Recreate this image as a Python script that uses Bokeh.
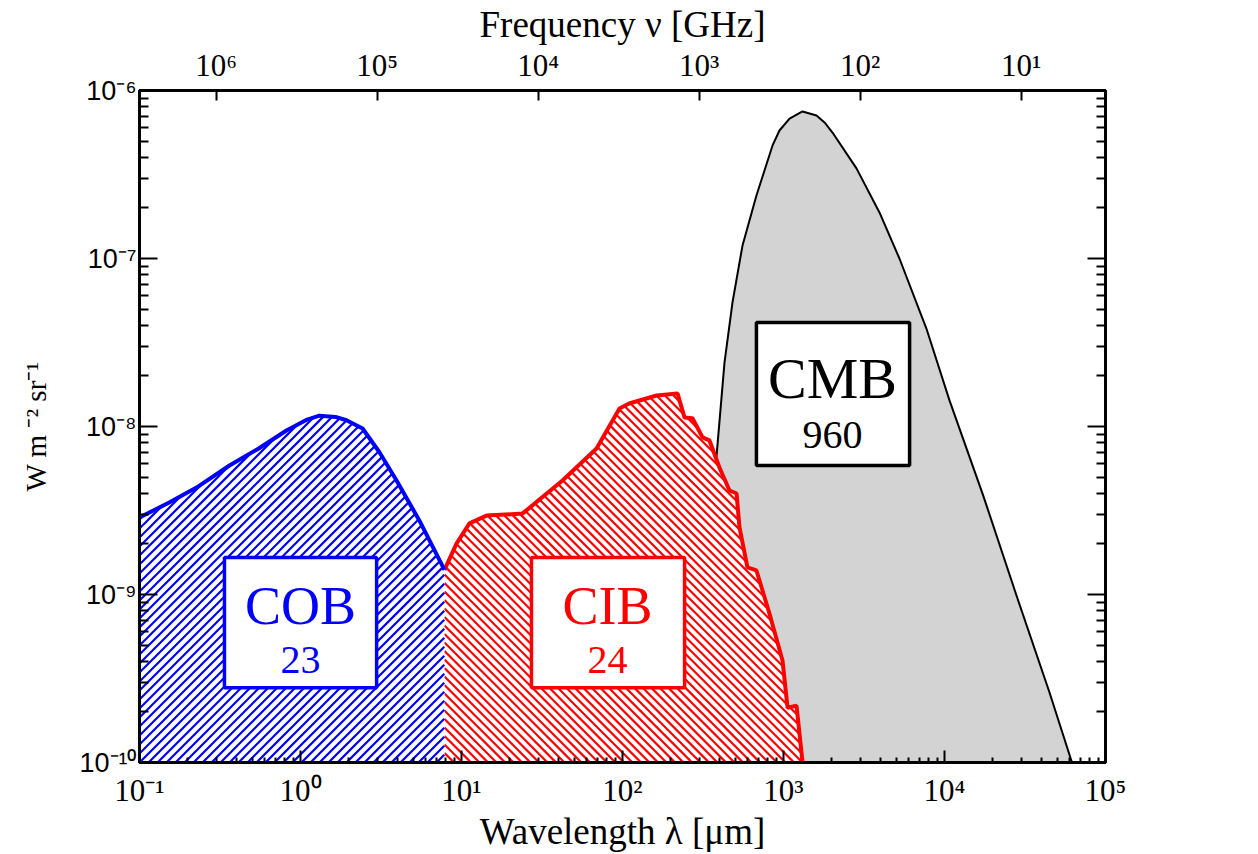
import numpy as np
from bokeh.plotting import figure
from bokeh.models import Range1d, LogAxis, FixedTicker, LogScale, BoxAnnotation, Label
from bokeh.embed import file_html
from bokeh.resources import INLINE

# ---- data ----
cob_wavelength = [0.1, 0.153, 0.226, 0.362, 0.55, 0.818, 1.10, 1.31, 1.65, 1.93, 2.43, 3.10, 3.95, 5.48, 7.84]
cob_intensity = [2.87e-9, 3.53e-9, 4.33e-9, 5.86e-9, 7.40e-9, 9.47e-9, 1.10e-8, 1.16e-8, 1.14e-8,
                 1.09e-8, 9.73e-9, 7.0e-9, 4.77e-9, 2.75e-9, 1.40e-9]

cib_wavelength = [7.84, 9.31, 11.2, 14.3, 23.9, 42.4, 69.0, 95.8, 110, 163, 220, 226, 243, 272, 288,
                  314, 347, 362, 400, 462, 511, 533, 597, 679, 818, 986, 1060, 1205, 1313]
cib_intensity = [1.40e-9, 2.01e-9, 2.65e-9, 2.95e-9, 3.03e-9, 4.77e-9, 7.40e-9, 1.28e-8, 1.37e-8,
                 1.53e-8, 1.57e-8, 1.43e-8, 1.13e-8, 1.12e-8, 1.01e-8, 8.61e-9, 8.26e-9, 7.40e-9,
                 5.70e-9, 4.16e-9, 3.99e-9, 2.51e-9, 1.45e-9, 1.39e-9, 7.71e-10, 4.05e-10, 2.12e-10,
                 2.18e-10, 1.0e-10]

cmb_wavelength = [230, 280, 330, 384, 430, 482, 556, 679, 762, 855, 944, 1090, 1313, 1603, 1799, 2015,
                  2840, 3945, 5250, 7720, 10740, 17400, 28000, 44900, 61900]
cmb_intensity = [1e-10, 5e-10, 2e-9, 6.71e-9, 2.40e-8, 5.47e-8, 1.19e-7, 2.37e-7, 3.34e-7, 4.71e-7,
                 5.78e-7, 6.81e-7, 7.50e-7, 7.10e-7, 6.45e-7, 5.62e-7, 3.44e-7, 1.88e-7, 1.0e-7,
                 3.83e-8, 1.43e-8, 3.88e-9, 9.86e-10, 2.61e-10, 1.0e-10]

wl_ticks = [1e-1, 1e0, 1e1, 1e2, 1e3, 1e4, 1e5]
wl_tick_labels = ["10⁻¹", "10⁰", "10¹", "10²", "10³", "10⁴", "10⁵"]
int_ticks = [1e-10, 1e-9, 1e-8, 1e-7, 1e-6]
int_tick_labels = ["10⁻¹⁰", "10⁻⁹", "10⁻⁸", "10⁻⁷", "10⁻⁶"]
freq_ticks = [1e6, 1e5, 1e4, 1e3, 1e2, 1e1]
freq_tick_labels = ["10⁶", "10⁵", "10⁴", "10³", "10²", "10¹"]

C_UM_GHZ = 299792.458  # lambda[um] * nu[GHz]

SERIF = "Liberation Serif"
SANS = "Liberation Sans"

X_START, X_END = 0.1, 1e5
Y_START, Y_END = 1e-10, 1e-6
FRAME_W, FRAME_H = 966, 672
PPX = FRAME_W / (np.log10(X_END) - np.log10(X_START))
PPY = FRAME_H / (np.log10(Y_END) - np.log10(Y_START))


def minor_of(decades):
    out = []
    for d in decades[:-1]:
        for m in range(2, 10):
            out.append(d * m)
    return out


def hatch_segments(xs, ys, spacing, rising):
    """45-degree (on screen) hatch lines filling the area under a curve."""
    LX = (np.log10(xs) - np.log10(X_START)) * PPX
    LY = (np.log10(ys) - np.log10(Y_START)) * PPY
    X = np.arange(LX[0], LX[-1] + 1e-9, 0.2)
    F = np.interp(X, LX, LY)
    top = F.max()
    if rising:
        cs = np.arange(np.floor((LX[0] - top) / spacing) * spacing, LX[-1] + spacing, spacing)
    else:
        cs = np.arange(np.floor(LX[0] / spacing) * spacing, LX[-1] + top + spacing, spacing)
    seg_x, seg_y = [], []
    for c in cs:
        Y = X - c if rising else c - X
        inside = (Y >= 0) & (Y <= F)
        edges = np.flatnonzero(np.diff(np.concatenate([[0], inside.astype(int), [0]])))
        for s, e in zip(edges[::2], edges[1::2] - 1):
            if e > s:
                px = np.array([X[s], X[e]])
                py = np.array([max(Y[s], 0.0), max(Y[e], 0.0)])
                seg_x.append(list(10 ** (px / PPX + np.log10(X_START))))
                seg_y.append(list(10 ** (py / PPY + np.log10(Y_START))))
    return seg_x, seg_y


p = figure(x_axis_type="log", y_axis_type="log",
           x_range=Range1d(X_START, X_END), y_range=Range1d(Y_START, Y_END),
           frame_width=FRAME_W, frame_height=FRAME_H,
           min_border_left=139, min_border_top=84, min_border_right=30, min_border_bottom=60,
           output_backend="svg", toolbar_location=None)
p.grid.visible = False
p.outline_line_color = "black"
p.outline_line_width = 3
p.background_fill_color = "white"
p.border_fill_color = "white"

# CMB
p.varea(x=cmb_wavelength, y1=[Y_START] * len(cmb_wavelength), y2=cmb_intensity, fill_color="#d3d3d3")
p.line(cmb_wavelength, cmb_intensity, line_color="black", line_width=2)

# CIB
p.varea(x=cib_wavelength, y1=[Y_START] * len(cib_wavelength), y2=cib_intensity, fill_color="white")
hx, hy = hatch_segments(cib_wavelength, cib_intensity, 8.5, rising=False)
p.multi_line(hx, hy, line_color="red", line_width=2.2)
p.line(cib_wavelength, cib_intensity, line_color="red", line_width=4)

# COB
p.varea(x=cob_wavelength, y1=[Y_START] * len(cob_wavelength), y2=cob_intensity, fill_color="white")
hx, hy = hatch_segments(cob_wavelength, cob_intensity, 9, rising=True)
p.multi_line(hx, hy, line_color="blue", line_width=2.2)
p.line(cob_wavelength, cob_intensity, line_color="blue", line_width=4)

# label boxes
boxes = [
    dict(left=0.337, right=2.97, bottom=2.79e-10, top=1.66e-9, color="blue",
         name="COB", value="23", tx=1.0),
    dict(left=27.2, right=243, bottom=2.79e-10, top=1.66e-9, color="red",
         name="CIB", value="24", tx=80.7),
]
for b in boxes:
    p.add_layout(BoxAnnotation(left=b["left"], right=b["right"], bottom=b["bottom"], top=b["top"],
                               fill_color="white", fill_alpha=1, line_color=b["color"],
                               line_width=3.5, line_alpha=1))
    p.add_layout(Label(x=b["tx"], y=8.6e-10, text=b["name"], text_color=b["color"],
                       text_font=SERIF, text_font_size="54px", text_align="center",
                       text_baseline="middle"))
    p.add_layout(Label(x=b["tx"], y=4.05e-10, text=b["value"], text_color=b["color"],
                       text_font=SERIF, text_font_size="40px", text_align="center",
                       text_baseline="middle"))

p.add_layout(BoxAnnotation(left=679, right=6070, bottom=5.86e-9, top=4.16e-8,
                           fill_color="white", fill_alpha=1, line_color="black",
                           line_width=3.5, line_alpha=1))
p.add_layout(Label(x=2014, y=1.93e-8, text="CMB", text_color="black", text_font=SERIF,
                   text_font_size="58px", text_align="center", text_baseline="middle"))
p.add_layout(Label(x=2014, y=8.96e-9, text="960", text_color="black", text_font=SERIF,
                   text_font_size="40px", text_align="center", text_baseline="middle"))

# bottom axis
xa = p.xaxis[0]
xa.ticker = FixedTicker(ticks=wl_ticks, minor_ticks=minor_of(wl_ticks))
xa.major_label_overrides = dict(zip(wl_ticks, wl_tick_labels))
xa.axis_label = "Wavelength λ [μm]"

# left axis
ya = p.yaxis[0]
ya.ticker = FixedTicker(ticks=int_ticks, minor_ticks=minor_of(int_ticks))
ya.major_label_overrides = dict(zip(int_ticks, int_tick_labels))
ya.axis_label = "W m ⁻² sr⁻¹"

# right axis
ra = LogAxis(ticker=FixedTicker(ticks=int_ticks, minor_ticks=minor_of(int_ticks)),
             major_label_overrides={t: "" for t in int_ticks})
p.add_layout(ra, "right")

# top frequency axis
p.extra_x_ranges = {"freq": Range1d(start=C_UM_GHZ / X_START, end=C_UM_GHZ / X_END)}
p.extra_x_scales = {"freq": LogScale()}
ta = LogAxis(x_range_name="freq", ticker=FixedTicker(ticks=freq_ticks),
             major_label_overrides=dict(zip(freq_ticks, freq_tick_labels)),
             axis_label="Frequency ν [GHz]")
p.add_layout(ta, "above")

for ax in [xa, ya, ra, ta]:
    ax.axis_line_color = "black"
    ax.axis_line_width = 3
    ax.major_tick_line_color = "black"
    ax.major_tick_line_width = 2
    ax.minor_tick_line_color = "black"
    ax.minor_tick_line_width = 2
    ax.major_tick_out = 0
    ax.minor_tick_out = 0
    ax.major_label_text_color = "black"
    ax.axis_label_text_color = "black"
    ax.axis_label_text_font_style = "normal"

for ax in [xa, ta]:
    ax.major_label_text_font = SERIF
    ax.major_label_text_font_size = "31px"
    ax.axis_label_text_font = SERIF
    ax.axis_label_text_font_size = "37px"
    ax.major_tick_in = 12
    ax.minor_tick_in = 5
    ax.major_label_standoff = 10
    ax.axis_label_standoff = 0
ta.minor_tick_line_color = None
ta.major_tick_in = 10
ta.major_label_standoff = 8

for ax in [ya, ra]:
    ax.major_tick_in = 18
    ax.minor_tick_in = 9
ya.major_label_text_font = SANS
ya.major_label_text_font_size = "27px"
ya.major_label_standoff = 3
ya.axis_label_text_font = SERIF
ya.axis_label_text_font_size = "29px"
ya.axis_label_standoff = 24
ra.major_label_text_font_size = "1px"
ra.major_label_standoff = 0

open("out.html", "w").write(file_html(p, INLINE))
